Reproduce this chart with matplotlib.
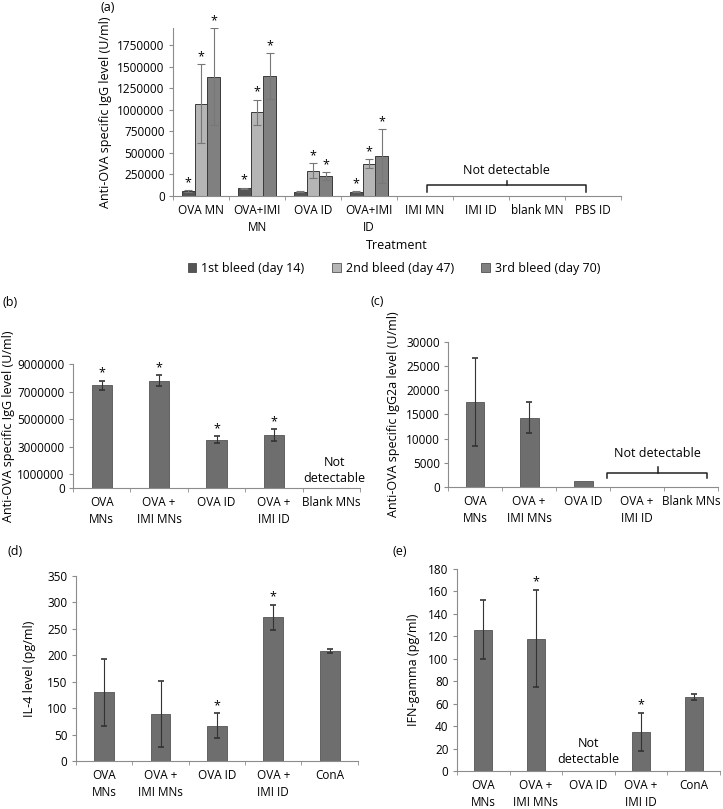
#!/usr/bin/env python3
"""Recreate the five-panel OVA antibody / cytokine bar figure."""

import matplotlib

matplotlib.use("Agg")
import matplotlib.pyplot as plt
import numpy as np
from matplotlib.patches import Patch

plt.rcParams["font.family"] = ["Open Sans", "DejaVu Sans"]
plt.rcParams["font.size"] = 8.5

# ---------------------------------------------------------------------------
# Data
# ---------------------------------------------------------------------------

# (a) IgG by bleed
a_cats = ["OVA MN", "OVA+IMI\nMN", "OVA ID", "OVA+IMI\nID", "IMI MN", "IMI ID", "blank MN", "PBS ID"]
a_series = ["1st bleed (day 14)", "2nd bleed (day 47)", "3rd bleed (day 70)"]
a_vals = [
    [60000, 90000, 50000, 50000],
    [1070000, 970000, 295000, 375000],
    [1385000, 1395000, 232000, 465000],
]
a_errs = [
    [8000, 8000, 5000, 5000],
    [460000, 150000, 90000, 50000],
    [560000, 265000, 45000, 315000],
]
a_star = [
    [True, True, False, True],
    [True, True, True, True],
    [True, True, True, True],
]
a_ticks = [0, 250000, 500000, 750000, 1000000, 1250000, 1500000, 1750000]

# (b) IgG
b_cats = ["OVA\nMNs", "OVA +\nIMI MNs", "OVA ID", "OVA +\nIMI ID", "Blank MNs"]
b_vals = [7450000, 7800000, 3500000, 3850000]
b_errs = [350000, 380000, 250000, 420000]
b_ticks = [0, 1000000, 3000000, 5000000, 7000000, 9000000]

# (c) IgG2a
c_cats = ["OVA\nMNs", "OVA +\nIMI MNs", "OVA ID", "OVA +\nIMI ID", "Blank MNs"]
c_vals = [17600, 14300, 1200]
c_errs = [9100, 3200, 0]
c_ticks = [0, 5000, 10000, 15000, 20000, 25000, 30000]

# (d) IL-4
d_cats = ["OVA\nMNs", "OVA +\nIMI MNs", "OVA ID", "OVA +\nIMI ID", "ConA"]
d_vals = [130, 89, 67, 272, 208]
d_errs = [63, 63, 23, 24, 4]
d_star = [False, False, True, True, False]
d_ticks = [0, 50, 100, 150, 200, 250, 300, 350]

# (e) IFN-gamma (OVA ID not detectable)
e_cats = ["OVA\nMNs", "OVA +\nIMI MNs", "OVA ID", "OVA +\nIMI ID", "ConA"]
e_idx = [0, 1, 3, 4]
e_vals = [126, 118, 35, 66]
e_errs = [26, 43, 17, 3]
e_star = [False, True, True, False]
e_ticks = [0, 20, 40, 60, 80, 100, 120, 140, 160, 180]

AXIS_COLOR = "#8c8c8c"
BAR_COLOR = "#6e6e6e"
A_COLORS = ["#555555", "#b5b5b5", "#808080"]


# ---------------------------------------------------------------------------
# Helpers
# ---------------------------------------------------------------------------


def style_axes(ax, n_cats, cats, yticks, ymax):
    for s in ("top", "right"):
        ax.spines[s].set_visible(False)
    for s in ("left", "bottom"):
        ax.spines[s].set_color(AXIS_COLOR)
        ax.spines[s].set_linewidth(0.8)
    ax.set_xlim(-0.5, n_cats - 0.5)
    ax.set_ylim(0, ymax)
    ax.set_yticks(yticks)
    ax.set_yticklabels([str(t) for t in yticks])
    ax.set_xticks(np.arange(n_cats))
    ax.set_xticklabels(cats, linespacing=1.35)
    ax.set_xticks(np.arange(n_cats + 1) - 0.5, minor=True)
    ax.tick_params(axis="x", which="major", length=0, pad=6)
    ax.tick_params(axis="x", which="minor", length=3, color=AXIS_COLOR)
    ax.tick_params(axis="y", length=3, color=AXIS_COLOR, pad=3)


def brace(ax, x0, x1, xm, y_end, y_line, y_tip, label, y_text):
    ax.plot([x0, x0, x1, x1], [y_end, y_line, y_line, y_end], color="#222222", lw=1.1)
    ax.plot([xm, xm], [y_line, y_tip], color="#222222", lw=1.1)
    ax.text(xm, y_text, label, ha="center", va="center", fontsize=9)


def single_panel(ax, idx, vals, errs, stars, cats, yticks, ymax, star_off):
    ax.bar(idx, vals, width=0.35, color=BAR_COLOR, edgecolor="#555555", linewidth=0.6)
    for x, v, e, s in zip(idx, vals, errs, stars):
        if e > 0:
            ax.errorbar(x, v, yerr=e, color="#333333", lw=0.8, capsize=2.5, capthick=1.2)
        if s:
            ax.text(x, v + e + star_off, "*", ha="center", va="bottom", fontsize=9)
    style_axes(ax, len(cats), cats, yticks, ymax)


# ---------------------------------------------------------------------------
# Figure
# ---------------------------------------------------------------------------

fig = plt.figure(figsize=(7.23, 8.09), dpi=100)

# ---- (a) ----
ax_a = fig.add_axes([0.2393, 0.7577, 0.6197, 0.2077])
x = np.arange(len(a_vals[0]))
w = 0.227
for i in range(3):
    xs = x + (i - 1) * w
    ax_a.bar(xs, a_vals[i], width=w, color=A_COLORS[i], edgecolor="#3a3a3a", linewidth=0.7)
    ax_a.errorbar(xs, a_vals[i], yerr=a_errs[i], fmt="none", ecolor="#777777",
                  elinewidth=0.8, capsize=3, capthick=0.8)
    for xx, v, e, s in zip(xs, a_vals[i], a_errs[i], a_star[i]):
        if s:
            ax_a.text(xx, v + e + 10000, "*", ha="center", va="bottom", fontsize=9)
style_axes(ax_a, len(a_cats), a_cats, a_ticks, 1950000)
ax_a.set_ylabel("Anti-OVA specific IgG level (U/ml)", fontsize=9)
ax_a.set_xlabel("Treatment", fontsize=9, labelpad=4)
brace(ax_a, 4.04, 6.87, 5.46, 46000, 127000, 174000, "Not detectable", 292000)

handles = [Patch(facecolor=c, edgecolor="#3a3a3a", linewidth=0.5) for c in A_COLORS]
fig.legend(handles, a_series, loc="center", bbox_to_anchor=(0.545, 0.668), ncol=3,
           frameon=False, fontsize=9, handlelength=0.7, handleheight=0.7,
           handletextpad=0.4, columnspacing=2.2)
fig.text(0.139, 0.991, "(a)", fontsize=9, ha="left", va="center")

# ---- (b) ----
ax_b = fig.add_axes([0.101, 0.3968, 0.397, 0.1533])
single_panel(ax_b, [0, 1, 2, 3], b_vals, b_errs, [True] * 4, b_cats, b_ticks, 9000000, 80000)
ax_b.set_ylabel("Anti-OVA specific IgG level (U/ml)", fontsize=9, labelpad=2)
ax_b.text(4.05, 1300000, "Not\ndetectable", ha="center", va="center", fontsize=9, linespacing=1.3)
fig.text(0.004, 0.626, "(b)", fontsize=9, ha="left", va="center")

# ---- (c) ----
ax_c = fig.add_axes([0.6197, 0.398, 0.3735, 0.1793])
single_panel(ax_c, [0, 1, 2], c_vals, c_errs, [False] * 3, c_cats, c_ticks, 30000, 0)
ax_c.set_ylabel("Anti-OVA specific IgG2a level (U/ml)", fontsize=9, labelpad=4)
brace(ax_c, 2.44, 4.3, 3.38, 1850, 2900, 4100, "Not detectable", 7000)
fig.text(0.513, 0.627, "(c)", fontsize=9, ha="left", va="center")

# ---- (d) ----
ax_d = fig.add_axes([0.105, 0.0593, 0.390, 0.2287])
single_panel(ax_d, np.arange(5), d_vals, d_errs, d_star, d_cats, d_ticks, 350, 2)
ax_d.set_ylabel("IL-4 level (pg/ml)", fontsize=9, labelpad=8)
fig.text(0.011, 0.318, "(d)", fontsize=9, ha="left", va="center")

# ---- (e) ----
ax_e = fig.add_axes([0.632, 0.047, 0.364, 0.2497])
single_panel(ax_e, e_idx, e_vals, e_errs, e_star, e_cats, e_ticks, 180, 1.5)
ax_e.set_ylabel("IFN-gamma (pg/ml)", fontsize=9, labelpad=6)
ax_e.text(2, 17, "Not\ndetectable", ha="center", va="center", fontsize=9, linespacing=1.3)
fig.text(0.543, 0.318, "(e)", fontsize=9, ha="left", va="center")

fig.savefig("out.png", dpi=100)
